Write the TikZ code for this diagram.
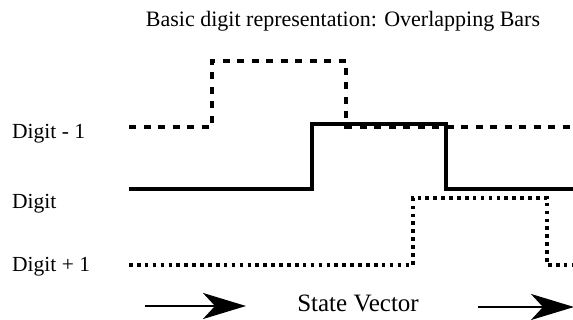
\documentclass[tikz,border=0pt]{standalone}
\usepackage{fontspec}
\setmainfont{Liberation Serif}
\usetikzlibrary{arrows.meta}
\begin{document}
\begin{tikzpicture}[x=1pt,y=-1pt,
  label/.style={anchor=base west,inner sep=0pt,font=\fontsize{21.5}{24}\selectfont},
  prevbar/.style={line width=3.2pt,dash pattern=on 7pt off 7.5pt},
  curbar/.style={line width=4pt},
  nextbar/.style={line width=3.4pt,dash pattern=on 3.6pt off 4.3pt},
  flow/.style={line width=2.6pt,-{Stealth[length=43pt,width=26pt,inset=12pt]}}]
\useasboundingbox (0,0) rectangle (573,320);
% title
\node[anchor=base,inner sep=0pt,font=\fontsize{22}{26}\selectfont] (title) at (343,27)
  {Basic digit representation: Overlapping Bars};
% row labels
\node[label] (lprev) at (12,139) {Digit - 1};
\node[label] (lcur)  at (12,209) {Digit};
\node[label] (lnext) at (12,272) {Digit + 1};
% digit - 1 bar (dashed)
\draw[prevbar] (129,127) -- (212,127) -- (212,61) -- (346,61) -- (346,127) -- (573,127);
% digit bar (solid)
\draw[curbar] (129,189) -- (312,189) -- (312,124) -- (446,124) -- (446,189) -- (573,189);
% digit + 1 bar (dotted)
\draw[nextbar] (129,265) -- (413,265) -- (413,198) -- (547,198) -- (547,265) -- (573,265);
% state vector direction
\node[anchor=base,inner sep=0pt,font=\fontsize{25}{28}\selectfont] (sv) at (358,312) {State Vector};
\coordinate (a1s) at (145,306);
\coordinate (a1e) at (246,306);
\coordinate (a2s) at (478,307);
\coordinate (a2e) at (574,307);
\draw[flow] (a1s) -- (a1e);
\draw[flow] (a2s) -- (a2e);
\end{tikzpicture}
\end{document}
